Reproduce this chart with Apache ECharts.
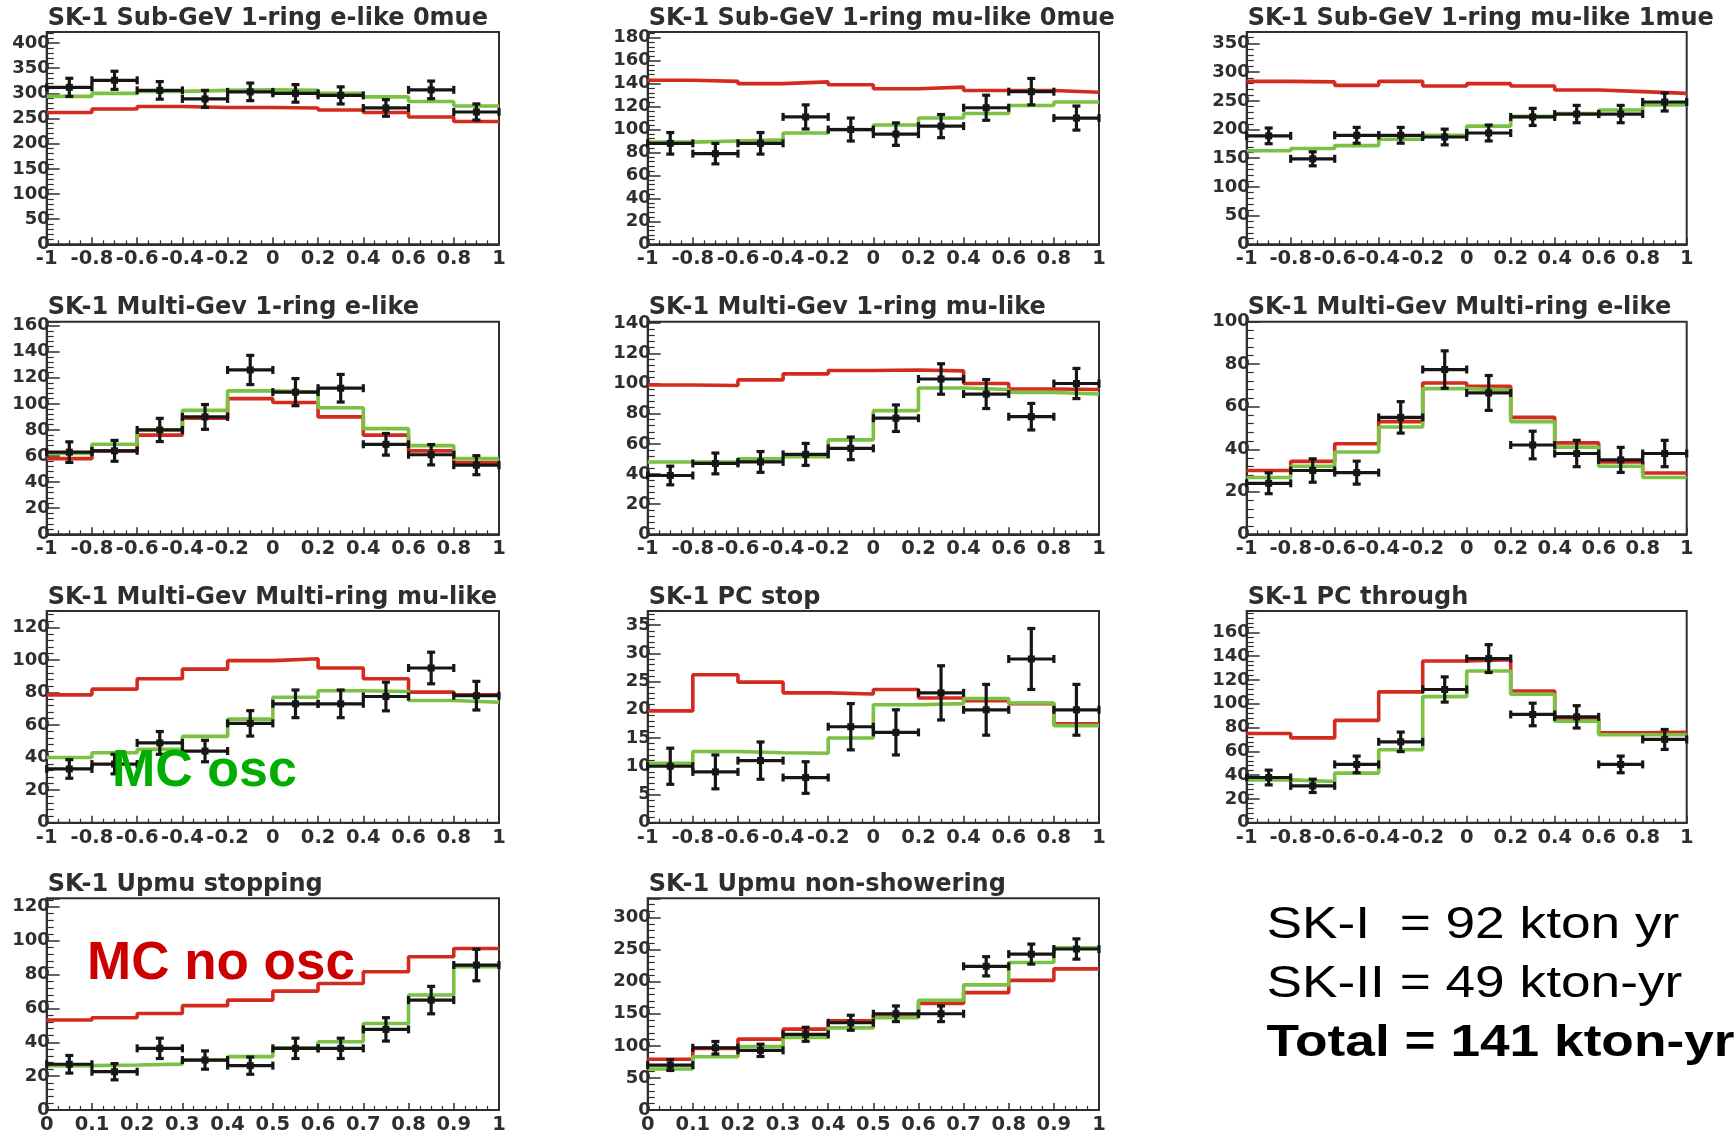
<!DOCTYPE html>
<html>
<head>
<meta charset="utf-8">
<script src="https://cdn.jsdelivr.net/npm/echarts@6/dist/echarts.min.js"></script>
<style>
  html, body { margin: 0; padding: 0; background: #fff; }
  #chart { width: 1736px; height: 1135px; }
</style>
</head>
<body>
<div id="chart"></div>
<script>
// SK-1 zenith-angle distributions: data points with statistical errors,
// MC with oscillation (green) and without oscillation (red).

// Bin edges
const cosBins = [-1, -0.8, -0.6, -0.4, -0.2, 0, 0.2, 0.4, 0.6, 0.8, 1];
const upmuBins = [0, 0.1, 0.2, 0.3, 0.4, 0.5, 0.6, 0.7, 0.8, 0.9, 1];

const panelTitles = [
  'SK-1 Sub-GeV 1-ring e-like 0mue',
  'SK-1 Sub-GeV 1-ring mu-like 0mue',
  'SK-1 Sub-GeV 1-ring mu-like 1mue',
  'SK-1 Multi-Gev 1-ring e-like',
  'SK-1 Multi-Gev 1-ring mu-like',
  'SK-1 Multi-Gev Multi-ring e-like',
  'SK-1 Multi-Gev Multi-ring mu-like',
  'SK-1 PC stop',
  'SK-1 PC through',
  'SK-1 Upmu stopping',
  'SK-1 Upmu non-showering'
];

// y-axis range tops and label steps
const yMax  = [422, 185, 370, 163, 141, 100, 130, 37.5, 178, 125, 330];
const yStep = [50, 20, 50, 20, 20, 20, 20, 5, 20, 20, 50];

// Sub-GeV 1-ring e-like 0mue
const sgE0Data  = [312, 326, 306, 289, 303, 300, 296, 271, 307, 263];
const sgE0Err   = [18, 18, 17.5, 17, 17.5, 17.5, 17, 16.5, 17.5, 16];
const sgE0Osc   = [294, 300, 304, 306, 307, 306, 300, 293, 284, 275];
const sgE0NoOsc = [262, 269, 274, 272, 272, 271, 267, 262, 253, 244];

// Sub-GeV 1-ring mu-like 0mue
const sgMu0Data  = [88, 79, 88, 111, 100, 96, 103, 119, 133, 110];
const sgMu0Err   = [9.4, 8.9, 9.4, 10.5, 10, 9.8, 10.1, 10.9, 11.5, 10.5];
const sgMu0Osc   = [89, 90, 91, 97, 100, 104, 110, 114, 121, 124];
const sgMu0NoOsc = [143, 142, 140, 141.5, 139, 135.5, 137, 134, 134, 132.5];

// Sub-GeV 1-ring mu-like 1mue
const sgMu1Data  = [189, 149, 190, 190, 187, 194, 222, 227, 227, 248];
const sgMu1Err   = [13.7, 12.2, 13.8, 13.8, 13.7, 13.9, 14.9, 15.1, 15.1, 15.7];
const sgMu1Osc   = [163, 167, 172, 183, 190, 206, 223, 228, 234, 243];
const sgMu1NoOsc = [284, 283, 277, 284, 276, 280, 276, 269, 266, 263];

// Multi-GeV 1-ring e-like
const mgE1Data  = [63, 64, 80, 90, 126, 109, 112, 69, 61, 53];
const mgE1Err   = [7.9, 8, 8.9, 9.5, 11.2, 10.4, 10.6, 8.3, 7.8, 7.3];
const mgE1Osc   = [62, 69, 80, 95, 110, 109, 97, 81, 68, 58];
const mgE1NoOsc = [58, 64, 76, 89, 104, 101, 90, 76, 64, 55];

// Multi-GeV 1-ring mu-like
const mgMu1Data  = [39, 47, 48, 53, 57, 77, 103, 93, 78, 100];
const mgMu1Err   = [6.2, 6.9, 6.9, 7.3, 7.5, 8.8, 10.1, 9.6, 8.8, 10];
const mgMu1Osc   = [48, 48, 50, 51.5, 62.6, 82, 97, 96, 94, 93];
const mgMu1NoOsc = [99, 98.7, 102.4, 106.4, 108.6, 109, 108.4, 100, 96.4, 96];

// Multi-GeV multi-ring e-like
const mgEmData  = [24, 30, 29, 55, 77.5, 66.5, 42, 38, 35, 38];
const mgEmErr   = [4.9, 5.5, 5.4, 7.4, 8.8, 8.2, 6.5, 6.2, 5.9, 6.2];
const mgEmOsc   = [26.7, 32, 38.7, 50.5, 68.5, 68, 53, 41, 32, 26.7];
const mgEmNoOsc = [30, 34.3, 42.6, 53, 71.2, 69.6, 55, 43, 34, 28.8];

// Multi-GeV multi-ring mu-like
const mgMumData  = [33, 36, 49, 44, 61, 73, 73, 77.5, 95, 78];
const mgMumErr   = [5.7, 6, 7, 6.6, 7.8, 8.5, 8.5, 8.8, 9.7, 8.8];
const mgMumOsc   = [40, 43, 45, 53, 63.6, 77, 81, 80.6, 75, 74];
const mgMumNoOsc = [78.5, 82, 88.4, 94.3, 99.5, 100.7, 95, 88.4, 80.2, 78.5];

// PC stop
const pcStopData  = [10, 9, 11, 8, 17, 16, 23, 20, 29, 20];
const pcStopErr   = [3.2, 3, 3.3, 2.8, 4.1, 4, 4.8, 4.5, 5.4, 4.5];
const pcStopOsc   = [10.5, 12.6, 12.4, 12.3, 15, 20.9, 21.1, 22, 21.2, 17.2];
const pcStopNoOsc = [19.8, 26.2, 24.9, 23, 22.8, 23.6, 22.1, 21.6, 21.1, 17.5];

// PC through
const pcThruData  = [38, 31, 49, 68, 112, 138, 91, 89, 49, 70];
const pcThruErr   = [6.2, 5.6, 7, 8.2, 10.6, 11.7, 9.5, 9.4, 7, 8.4];
const pcThruOsc   = [36, 34.6, 41.7, 61.4, 106, 127.6, 108, 85.4, 74, 74];
const pcThruNoOsc = [75, 71.3, 86, 110, 136, 137, 110.7, 86.8, 75.5, 76];

// Upmu stopping
const upStopData  = [27, 22.6, 36.4, 29.5, 26.2, 36.4, 36.4, 47.6, 64.9, 85.6];
const upStopErr   = [5.2, 4.8, 6, 5.4, 5.1, 6, 6, 6.9, 8.1, 9.3];
const upStopOsc   = [26.2, 26.6, 27.1, 29.5, 31.5, 36.8, 40.3, 51.1, 67.9, 84.6];
const upStopNoOsc = [53.1, 54.5, 57, 61.6, 64.9, 70.2, 74.7, 81.6, 90.5, 95.4];

// Upmu non-showering
const upThruData  = [70, 97, 93, 118, 136, 150, 150, 224, 243, 251];
const upThruErr   = [8.4, 9.8, 9.6, 10.9, 11.7, 12.2, 12.2, 15, 15.6, 15.8];
const upThruOsc   = [64, 83, 99, 113, 128, 144, 171, 195, 230, 253];
const upThruNoOsc = [79, 96, 110.5, 126, 139, 148, 166, 183, 202, 220];

const panels = [
  { bins: cosBins,  data: sgE0Data,   err: sgE0Err,   osc: sgE0Osc,   noOsc: sgE0NoOsc },
  { bins: cosBins,  data: sgMu0Data,  err: sgMu0Err,  osc: sgMu0Osc,  noOsc: sgMu0NoOsc },
  { bins: cosBins,  data: sgMu1Data,  err: sgMu1Err,  osc: sgMu1Osc,  noOsc: sgMu1NoOsc },
  { bins: cosBins,  data: mgE1Data,   err: mgE1Err,   osc: mgE1Osc,   noOsc: mgE1NoOsc },
  { bins: cosBins,  data: mgMu1Data,  err: mgMu1Err,  osc: mgMu1Osc,  noOsc: mgMu1NoOsc },
  { bins: cosBins,  data: mgEmData,   err: mgEmErr,   osc: mgEmOsc,   noOsc: mgEmNoOsc },
  { bins: cosBins,  data: mgMumData,  err: mgMumErr,  osc: mgMumOsc,  noOsc: mgMumNoOsc },
  { bins: cosBins,  data: pcStopData, err: pcStopErr, osc: pcStopOsc, noOsc: pcStopNoOsc },
  { bins: cosBins,  data: pcThruData, err: pcThruErr, osc: pcThruOsc, noOsc: pcThruNoOsc },
  { bins: upmuBins, data: upStopData, err: upStopErr, osc: upStopOsc, noOsc: upStopNoOsc },
  { bins: upmuBins, data: upThruData, err: upThruErr, osc: upThruOsc, noOsc: upThruNoOsc }
];

// Frame layout (3 columns x 4 rows)
const colLeft   = [46.7, 647.7, 1246.7];
const colWidth  = [452.3, 451.3, 440];
const rowTop    = [32, 321.7, 611, 898.3];
const rowHeight = [212.3, 212.6, 211.7, 211.7];
const titleMidY = [18.4, 307.4, 597.4, 884.5];

const INK = '#2e2e2e';
const RED = '#d42b1f';
const GREEN = '#7bc143';
const labelFont = { fontFamily: 'DejaVu Sans', fontWeight: 'bold', color: INK };

const grids = [], xAxes = [], yAxes = [], series = [], texts = [];

// Histogram outline drawn as a step line through the left bin edges
function stepPoints(bins, vals) {
  return bins.map((b, k) => [b, vals[Math.min(k, vals.length - 1)]]);
}

// Tick label shown only on whole multiples of the step, printed without float noise
function stepLabel(step) {
  return v => {
    const n = v / step, r = Math.round(n);
    if (Math.abs(n - r) > 1e-6) return '';
    return String(parseFloat((r * step).toFixed(3)));
  };
}

// Data point: horizontal bar across the bin, vertical statistical error bar
function renderPoint(params, api) {
  const lo = api.value(0), hi = api.value(1), v = api.value(2), e = api.value(3);
  const mid = (lo + hi) / 2;
  const pL = api.coord([lo, v]), pR = api.coord([hi, v]);
  const pT = api.coord([mid, v + e]), pB = api.coord([mid, v - e]);
  const st = { stroke: '#161616', lineWidth: 3.2 };
  const c = 4;
  const ln = (x1, y1, x2, y2) => ({ type: 'line', shape: { x1, y1, x2, y2 }, style: st });
  return {
    type: 'group',
    children: [
      ln(pL[0], pL[1], pR[0], pR[1]),
      ln(pT[0], pT[1], pB[0], pB[1]),
      ln(pL[0], pL[1] - c, pL[0], pL[1] + c),
      ln(pR[0], pR[1] - c, pR[0], pR[1] + c),
      ln(pT[0] - c, pT[1], pT[0] + c, pT[1]),
      ln(pB[0] - c, pB[1], pB[0] + c, pB[1]),
      { type: 'rect', shape: { x: pT[0] - 3.5, y: pL[1] - 3.5, width: 7, height: 7 },
        style: { fill: '#161616' } }
    ]
  };
}

panels.forEach((p, i) => {
  const row = Math.floor(i / 3), col = i % 3;
  const bins = p.bins;
  const xStep = parseFloat((bins[1] - bins[0]).toFixed(3));
  const step = yStep[i];

  grids.push({
    left: colLeft[col], top: rowTop[row], width: colWidth[col], height: rowHeight[row],
    show: true, borderColor: INK, borderWidth: 2, backgroundColor: 'transparent'
  });

  xAxes.push({
    type: 'value', gridIndex: i,
    min: bins[0], max: bins[bins.length - 1], interval: xStep,
    axisLine: { show: true, onZero: false, lineStyle: { color: INK, width: 2 } },
    axisTick: { show: true, inside: true, length: 7, lineStyle: { color: INK, width: 1.5 } },
    minorTick: { show: true, splitNumber: 4, length: 4, lineStyle: { color: INK, width: 1.2 } },
    splitLine: { show: false },
    axisLabel: Object.assign({ fontSize: 19.5, margin: 5, formatter: stepLabel(xStep) }, labelFont)
  });

  yAxes.push({
    type: 'value', gridIndex: i,
    min: 0, max: yMax[i], interval: step,
    axisLine: { show: true, onZero: false, lineStyle: { color: INK, width: 2 } },
    axisTick: { show: true, inside: true, length: 13, lineStyle: { color: INK, width: 1.5 } },
    minorTick: { show: true, splitNumber: 5, length: 7, lineStyle: { color: INK, width: 1.2 } },
    splitLine: { show: false },
    axisLabel: Object.assign({ fontSize: 18, margin: -3, formatter: stepLabel(step) }, labelFont)
  });

  series.push({
    type: 'line', xAxisIndex: i, yAxisIndex: i, step: 'end',
    data: stepPoints(bins, p.noOsc), showSymbol: false, silent: true,
    lineStyle: { color: RED, width: 3.6 }, z: 2
  });
  series.push({
    type: 'line', xAxisIndex: i, yAxisIndex: i, step: 'end',
    data: stepPoints(bins, p.osc), showSymbol: false, silent: true,
    lineStyle: { color: GREEN, width: 3.6 }, z: 3
  });
  series.push({
    type: 'custom', xAxisIndex: i, yAxisIndex: i,
    data: p.data.map((v, k) => [bins[k], bins[k + 1], v, p.err[k]]),
    encode: { x: [0, 1], y: 2 },
    renderItem: renderPoint, z: 4, silent: true
  });

  texts.push({
    type: 'text', x: colLeft[col] + 1, y: titleMidY[row], z: 10,
    style: { text: panelTitles[i], font: 'bold 24px "DejaVu Sans"', fill: INK,
             align: 'left', verticalAlign: 'middle' }
  });
});

// Annotations
texts.push({
  type: 'text', x: 112, y: 772, z: 20,
  style: { text: 'MC osc', font: 'bold 52px "Liberation Sans"', fill: '#00ad00',
           align: 'left', verticalAlign: 'middle' }
});
texts.push({
  type: 'text', x: 87, y: 964.5, z: 20,
  style: { text: 'MC no osc', font: 'bold 53px "Liberation Sans"', fill: '#cc0000',
           align: 'left', verticalAlign: 'middle' }
});
const exposureLines = ['SK-I  = 92 kton yr', 'SK-II = 49 kton-yr', 'Total = 141 kton-yr'];
const exposureY = [925.5, 984.5, 1043.5];
exposureLines.forEach((t, k) => {
  texts.push({
    type: 'text', x: 1266.5, y: exposureY[k], scaleX: 1.21, z: 20,
    style: { text: t, font: (k === 2 ? 'bold ' : '') + '44px "Liberation Sans"', fill: '#000',
             align: 'left', verticalAlign: 'middle' }
  });
});

const chart = echarts.init(document.getElementById('chart'), null, { renderer: 'canvas' });
chart.setOption({
  animation: false,
  backgroundColor: '#fff',
  grid: grids,
  xAxis: xAxes,
  yAxis: yAxes,
  series: series,
  graphic: { elements: texts }
});
</script>
</body>
</html>
